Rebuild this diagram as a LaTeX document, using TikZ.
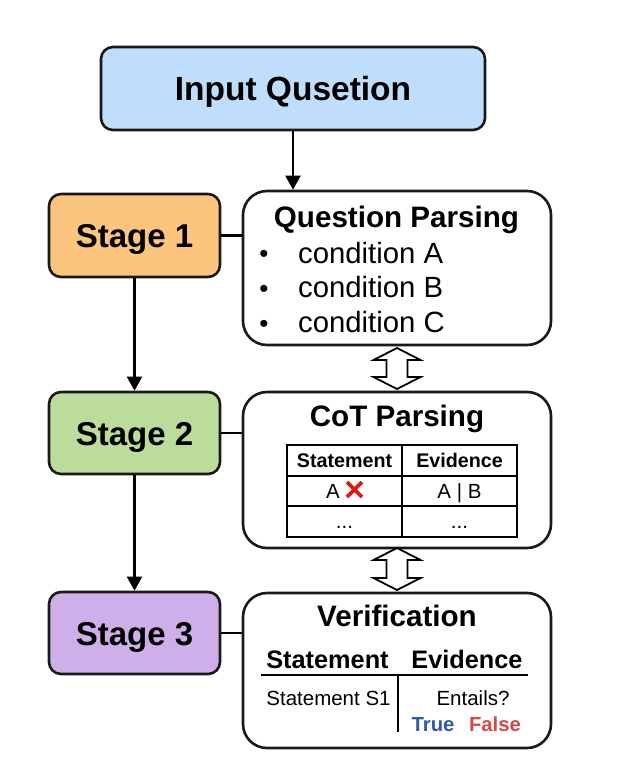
\documentclass[tikz,border=0pt]{standalone}
\usepackage{fontspec}
\setmainfont{Liberation Sans}
\usetikzlibrary{arrows.meta}
\definecolor{inblue}{RGB}{190,222,251}
\definecolor{orangeS}{RGB}{252,197,126}
\definecolor{greenS}{RGB}{188,220,155}
\definecolor{purpleS}{RGB}{207,175,234}
\definecolor{xred}{RGB}{226,22,22}
\definecolor{trueblue}{RGB}{48,88,172}
\definecolor{falsered}{RGB}{214,72,72}
\tikzset{
  boxline/.style={draw=black!90, line width=2.6pt},
  stagebox/.style={boxline, rounded corners=12pt, minimum width=171pt, minimum height=82pt, inner sep=0pt,
    text height=24pt, text depth=0pt, font=\fontsize{33}{38}\selectfont\bfseries},
  panel/.style={boxline, rounded corners=24pt, minimum width=308pt, inner sep=0pt},
  conn/.style={line width=2.2pt},
  arr/.style={conn, -{Triangle[length=14pt,width=15pt]}},
  ttl/.style={anchor=base, inner sep=0pt, font=\fontsize{29.6}{32}\selectfont\bfseries},
  cond/.style={anchor=base west, inner sep=0pt, font=\fontsize{29.3}{32}\selectfont},
  bul/.style={anchor=base, inner sep=0pt, font=\fontsize{26}{30}\selectfont},
  th/.style={anchor=base, inner sep=0pt, font=\fontsize{19.7}{22}\selectfont\bfseries},
  td/.style={anchor=base, inner sep=0pt, font=\fontsize{20.5}{22}\selectfont},
  vh/.style={anchor=base, inner sep=0pt, font=\fontsize{25.3}{28}\selectfont\bfseries},
  tbl/.style={line width=2pt},
  dbl/.style={line width=1.8pt, fill=white, line join=miter},
}
\begin{document}
\begin{tikzpicture}[x=1pt, y=-1pt]
\useasboundingbox (0,0) rectangle (628,772);

% input
\node[boxline, fill=inblue, rounded corners=12pt, minimum width=384pt, minimum height=83pt, inner sep=0pt,
  text height=24pt, text depth=0pt, font=\fontsize{33.5}{38}\selectfont\bfseries] (input) at (293,88.5) {Input Qusetion};

% stages
\node[stagebox, fill=orangeS, minimum height=83pt] (s1) at (134.5,235.5) {Stage 1};
\node[stagebox, fill=greenS] (s2) at (134.5,433) {Stage 2};
\node[stagebox, fill=purpleS] (s3) at (134.5,633) {Stage 3};

% panels
\node[panel, minimum height=154pt] (qp) at (397,268) {};
\node[panel, minimum height=156pt] (cot) at (397,470) {};
\node[panel, minimum height=155pt] (ver) at (397,670.5) {};

% connectors
\draw[arr] (input.south) -- (input.south |- qp.north);
\draw[conn] (s1.east) -- (s1.east -| qp.west);
\draw[conn] (s2.east) -- (s2.east -| cot.west);
\draw[conn] (s3.east) -- (s3.east -| ver.west);
\draw[arr] (s1.south) -- (s2.north);
\draw[arr] (s2.south) -- (s3.north);

% double arrows
\foreach \t/\b in {348/389, 548/590}{
  \draw[dbl] (397,\t) -- (420.5,\t+12) -- (407.5,\t+12) -- (407.5,\b-12) -- (420.5,\b-12) -- (397,\b)
    -- (373.5,\b-12) -- (386.5,\b-12) -- (386.5,\t+12) -- (373.5,\t+12) -- cycle;
}

% Question parsing
\node[ttl] (qpt) at (396.5,227) {Question Parsing};
\node[bul] (b1) at (264,262) {•};
\node[bul] (b2) at (264,297) {•};
\node[bul] (b3) at (264,332) {•};
\node[cond] (c1) at (298,263) {condition A};
\node[cond] (c2) at (298,297) {condition B};
\node[cond] (c3) at (298,332) {condition C};

% CoT parsing
\node[ttl] (cott) at (397,426) {CoT Parsing};
\draw[tbl] (287,445) rectangle (517,537);
\draw[tbl] (402,445) -- (402,537);
\draw[tbl] (287,476) -- (517,476);
\draw[tbl] (287,506) -- (517,506);
\node[th] (h1) at (344.5,467.5) {Statement};
\node[th] (h2) at (459.5,467.5) {Evidence};
\node[td] (r1) at (333,498) {A};
\draw[xred, line width=3.6pt] (347,482) -- (362,497) (347,497) -- (362,482);
\node[td] (r2) at (459.5,498) {A | B};
\node[td] (r3) at (344.5,528) {...};
\node[td] (r4) at (459.5,528) {...};

% Verification
\node[ttl] (vt) at (397,626) {Verification};
\node[vh] (vh1) at (327.5,668) {Statement};
\node[vh] (vh2) at (467,668) {Evidence};
\draw[tbl] (261,675) -- (528,675);
\draw[tbl] (398,675) -- (398,732);
\node[td] (s1t) at (328.5,705) {Statement S1};
\node[td] (ent) at (473,705) {Entails?};
\node[td, font=\fontsize{20.3}{22}\selectfont\bfseries, text=trueblue] (tr) at (433,731.5) {True};
\node[td, font=\fontsize{20.3}{22}\selectfont\bfseries, text=falsered] (fa) at (495,731.5) {False};
\end{tikzpicture}
\end{document}
